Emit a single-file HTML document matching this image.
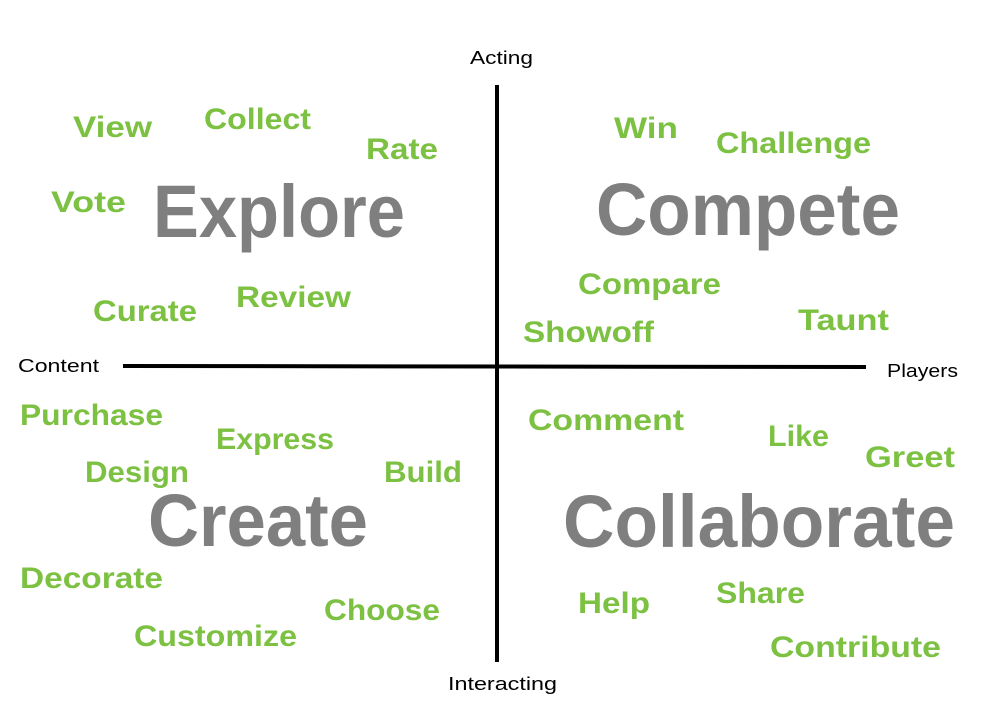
<!DOCTYPE html>
<html><head><meta charset="utf-8"><style>
html,body{margin:0;padding:0;background:#fff;width:995px;height:720px;overflow:hidden}
svg{display:block}
.g{fill:#7cc142;font-family:"Liberation Sans",sans-serif;font-weight:bold;font-size:30px}
.b{fill:#7f7f7f;font-family:"Liberation Sans",sans-serif;font-weight:bold;font-size:74px}
.s{fill:#000;font-family:"Liberation Sans",sans-serif;font-size:18px}
</style></head><body>
<svg width="995" height="720" xmlns="http://www.w3.org/2000/svg">
<line x1="497" y1="85" x2="497" y2="662" stroke="#000" stroke-width="4"/>
<line x1="123" y1="366" x2="866" y2="367" stroke="#000" stroke-width="4"/>
<g lengthAdjust="spacingAndGlyphs">
<text class="s" x="470" y="64" textLength="63" lengthAdjust="spacingAndGlyphs">Acting</text>
<text class="s" x="18" y="372" textLength="81" lengthAdjust="spacingAndGlyphs">Content</text>
<text class="s" x="887" y="377" textLength="71" lengthAdjust="spacingAndGlyphs">Players</text>
<text class="s" x="448" y="690" textLength="109" lengthAdjust="spacingAndGlyphs">Interacting</text>

<text class="g" x="73" y="137" textLength="79" lengthAdjust="spacingAndGlyphs">View</text>
<text class="g" x="204" y="129" textLength="107" lengthAdjust="spacingAndGlyphs">Collect</text>
<text class="g" x="366" y="159" textLength="72" lengthAdjust="spacingAndGlyphs">Rate</text>
<text class="g" x="51" y="212" textLength="75" lengthAdjust="spacingAndGlyphs">Vote</text>
<text class="b" x="153" y="237" textLength="252" lengthAdjust="spacingAndGlyphs">Explore</text>
<text class="g" x="93" y="321" textLength="104" lengthAdjust="spacingAndGlyphs">Curate</text>
<text class="g" x="236" y="307" textLength="115" lengthAdjust="spacingAndGlyphs">Review</text>

<text class="g" x="614" y="138" textLength="64" lengthAdjust="spacingAndGlyphs">Win</text>
<text class="g" x="716" y="153" textLength="155" lengthAdjust="spacingAndGlyphs">Challenge</text>
<text class="b" x="596" y="235" textLength="304" lengthAdjust="spacingAndGlyphs">Compete</text>
<text class="g" x="578" y="294" textLength="143" lengthAdjust="spacingAndGlyphs">Compare</text>
<text class="g" x="798" y="330" textLength="91" lengthAdjust="spacingAndGlyphs">Taunt</text>
<text class="g" x="523" y="342" textLength="131" lengthAdjust="spacingAndGlyphs">Showoff</text>

<text class="g" x="20" y="425" textLength="143" lengthAdjust="spacingAndGlyphs">Purchase</text>
<text class="g" x="216" y="449" textLength="118" lengthAdjust="spacingAndGlyphs">Express</text>
<text class="g" x="85" y="482" textLength="104" lengthAdjust="spacingAndGlyphs">Design</text>
<text class="g" x="384" y="482" textLength="78" lengthAdjust="spacingAndGlyphs">Build</text>
<text class="b" x="148" y="546" textLength="220" lengthAdjust="spacingAndGlyphs">Create</text>
<text class="g" x="20" y="588" textLength="143" lengthAdjust="spacingAndGlyphs">Decorate</text>
<text class="g" x="324" y="620" textLength="116" lengthAdjust="spacingAndGlyphs">Choose</text>
<text class="g" x="134" y="646" textLength="163" lengthAdjust="spacingAndGlyphs">Customize</text>

<text class="g" x="528" y="430" textLength="156" lengthAdjust="spacingAndGlyphs">Comment</text>
<text class="g" x="768" y="446" textLength="61" lengthAdjust="spacingAndGlyphs">Like</text>
<text class="g" x="865" y="467" textLength="90" lengthAdjust="spacingAndGlyphs">Greet</text>
<text class="b" x="563" y="547" textLength="392" lengthAdjust="spacingAndGlyphs">Collaborate</text>
<text class="g" x="578" y="613" textLength="72" lengthAdjust="spacingAndGlyphs">Help</text>
<text class="g" x="716" y="603" textLength="89" lengthAdjust="spacingAndGlyphs">Share</text>
<text class="g" x="770" y="657" textLength="171" lengthAdjust="spacingAndGlyphs">Contribute</text>
</g>
</svg>
</body></html>
